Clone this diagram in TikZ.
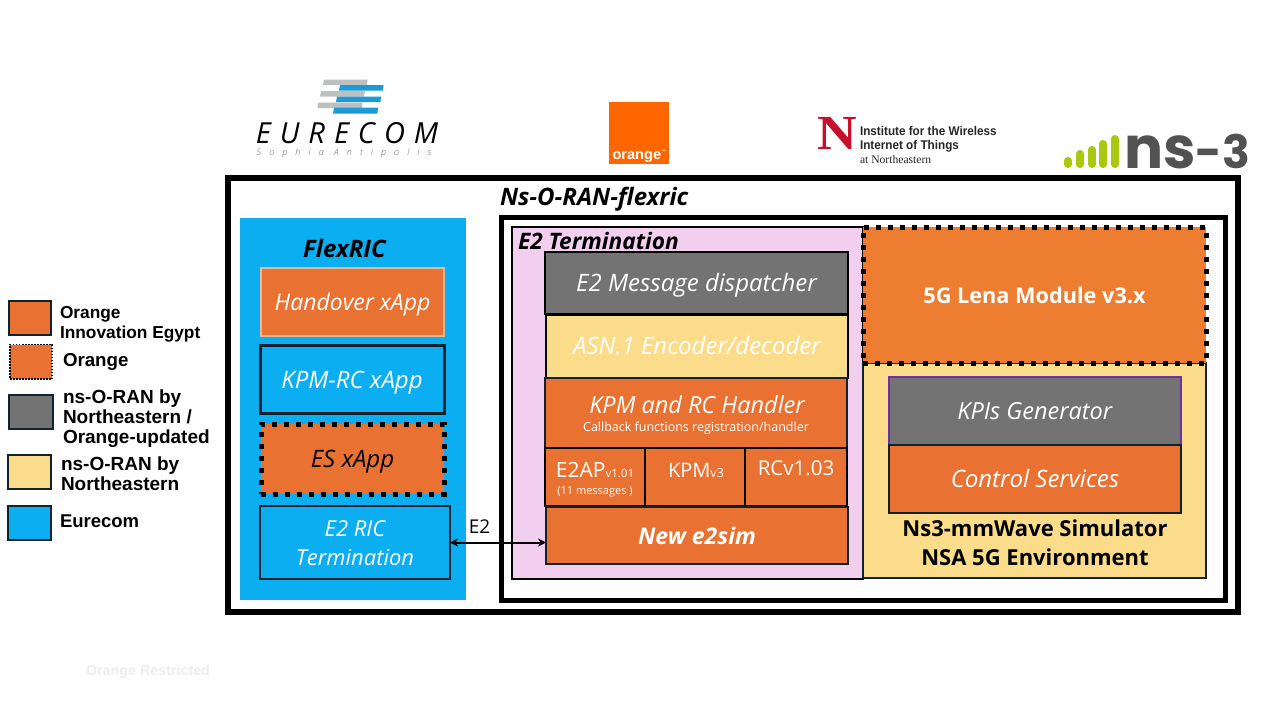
\documentclass[tikz,border=0pt]{standalone}
\usepackage{fontspec}
\usetikzlibrary{arrows.meta}
\setmainfont{Open Sans}
\newfontfamily\helv{Liberation Sans}
\newfontfamily\serifb{Liberation Serif}
\newfontfamily\logofont{Poppins}
\newfontfamily\eurefont[LetterSpace=31]{Open Sans}
\newfontfamily\eurefontb[LetterSpace=90]{Open Sans Light}
\definecolor{cOrange}{HTML}{E97132}
\definecolor{cLena}{HTML}{ED7D31}
\definecolor{cGray}{HTML}{737373}
\definecolor{cYellow}{HTML}{FBDC8B}
\definecolor{cBlue}{HTML}{0BAEF0}
\definecolor{cPink}{HTML}{F2CEEF}
\definecolor{cDark}{HTML}{10222E}
\definecolor{cTan}{HTML}{E8B89B}
\definecolor{cPurple}{HTML}{7030A0}
\definecolor{cLogoBlue}{HTML}{1C9AD6}
\definecolor{cLogoGray}{HTML}{BDBFC1}
\definecolor{cLime}{HTML}{A9C80E}
\definecolor{cRed}{HTML}{C8102E}
\definecolor{cFR}{HTML}{FF6600}
\newcommand{\fs}[2]{\fontsize{#1}{#2}\selectfont}
\newcommand{\pbox}[7]{%
  \pgfmathsetmacro\bw{#5-#3}\pgfmathsetmacro\bh{#6-#4}%
  \pgfmathsetmacro\bx{(#3+#5)/2}\pgfmathsetmacro\by{(#4+#6)/2}%
  \node[blk,#2,minimum width=\bw pt,minimum height=\bh pt] (#1) at (\bx,\by) {#7};}
\tikzset{
  blk/.style={rectangle,draw=cDark,line width=2pt,inner sep=0pt,outer sep=0pt,text=white,text height=17pt,text depth=0pt},
  dotbox/.style={draw=black,line width=5pt,dash pattern=on 5pt off 7pt},
  lab/.style={inner sep=0pt,outer sep=0pt,anchor=base},
  legtxt/.style={inner sep=0pt,outer sep=0pt,anchor=west,align=left,text=black},
  swatch/.style={draw=cDark,line width=2pt},
  frame/.style={draw=black,fill=none},
}
\begin{document}
\begin{tikzpicture}[x=1pt,y=-1pt]
\useasboundingbox (0,0) rectangle (1276,704);
% logos
\fill[cLogoGray] (324,79.5) -- (367.5,79.5) -- (367,85) -- (323,85) -- cycle;
\fill[cLogoGray] (321,91) -- (365,91) -- (364,96.5) -- (320,96.5) -- cycle;
\fill[cLogoGray] (318,102.5) -- (362.5,102.5) -- (362,108) -- (317.5,108) -- cycle;
\fill[cLogoBlue] (340,85) -- (383.5,85) -- (383,90.5) -- (339,90.5) -- cycle;
\fill[cLogoBlue] (337,96.5) -- (381,96.5) -- (380.5,102) -- (336,102) -- cycle;
\fill[cLogoBlue] (334,107.5) -- (378,107.5) -- (377.5,113.5) -- (333,113.5) -- cycle;
\node[lab,text=black] (eure) at (347,143) {\eurefont\itshape\fs{29}{30}EURECOM};
\node[lab,text=black!60] (soph) at (344,155) {\eurefontb\itshape\fs{9}{10}Sophia Antipolis};
\fill[cFR] (609,102) rectangle (669,164);
\node[lab,anchor=base west,text=white] (orlogo) at (612.5,159) {\helv\bfseries\fs{14.6}{15}orange\raisebox{6pt}{\fs{5}{5}™}};
\node[lab,text=cRed] (nu) at (837.5,149) {\scalebox{1.12}[1]{\serifb\bfseries\fs{49}{50}N}};
\node[lab,anchor=base west,text=black!85] (iw1) at (860,135.5) {\scalebox{.93}[1]{\helv\bfseries\fs{12.6}{14}Institute for the Wireless}};
\node[lab,anchor=base west,text=black!85] (iw2) at (860,149) {\scalebox{.93}[1]{\helv\bfseries\fs{12.6}{14}Internet of Things}};
\node[lab,anchor=base west,text=black!85] (iw3) at (860,163) {\serifb\fs{11.6}{12}at Northeastern};
\foreach \xc/\yt in {1068/157,1080/150,1092/146,1103/140,1115/135}
  \draw[cLime,line width=7.5pt,line cap=round] (\xc,\yt+3.7) -- (\xc,164.3);
\node[lab,anchor=base west,text=black!68] (ns3) at (1124.5,168) {\logofont\bfseries\fs{58}{60}ns\fs{46}{60}-3};
% frames
\draw[frame,line width=6pt] (228,177.5) rectangle (1237.5,611.5);
\draw[frame,line width=5pt] (501.5,217.5) rectangle (1225,600);
\node[lab,anchor=base west,text=black] (title) at (500,205.5) {\bfseries\itshape\fs{24}{26}Ns-O-RAN-flexric};
% FlexRIC
\pbox{flex}{draw=none,fill=cBlue}{240}{218}{466}{600}{}
\node[lab,text=black] (flext) at (344.5,257) {\bfseries\itshape\fs{24}{26}FlexRIC};
\pbox{hand}{draw=cTan,fill=cOrange,font=\itshape\fs{23}{25}}{261}{267.5}{444}{335.5}{Handover xApp}
\pbox{kpmx}{line width=3pt,fill=cBlue,font=\itshape\fs{24}{25}}{260}{345.5}{444}{413.5}{KPM-RC xApp}
\pbox{esx}{dotbox,fill=cOrange,text=black,font=\itshape\fs{24}{25}}{261}{424}{444}{494}{ES xApp}
\pbox{ric}{fill=cBlue}{260}{506}{450}{579}{}
\node[lab,text=white] (rict1) at (355,536.5) {\itshape\fs{22}{25}E2 RIC};
\node[lab,text=white] (rict2) at (355,565.5) {\itshape\fs{22}{25}Termination};
% E2 termination
\pbox{term}{draw=black,line width=1.5pt,fill=cPink}{512}{227}{863}{579}{}
\node[lab,anchor=base west,text=black] (termt) at (518,249.6) {\bfseries\itshape\fs{22.7}{24}E2 Termination};
\pbox{disp}{draw=black,fill=cGray,font=\itshape\fs{24}{25}}{545}{252}{848}{314}{E2 Message dispatcher}
\pbox{asn}{draw=black,fill=cYellow,font=\itshape\fs{24}{25}}{546}{314.5}{848}{378}{ASN.1 Encoder/decoder}
\pbox{hdl}{fill=cOrange}{545}{378}{847}{448}{}
\node[lab,text=white] (hdlt) at (697,413) {\itshape\fs{23.5}{25}KPM and RC Handler};
\node[lab,text=white] (hdls) at (696,431) {\fs{12.5}{14}Callback functions registration/handler};
\pbox{ap}{draw=black,fill=cOrange}{545}{448}{645}{506}{}
\node[lab,text=white] (apt) at (595,477.3) {\fs{21}{24}E2AP\fs{11.5}{24}v1.01};
\node[lab,text=white] (aps) at (595,494) {\fs{11}{12}(11 messages )};
\pbox{kpmv}{draw=black,fill=cOrange}{645}{448}{745}{506}{}
\node[lab,text=white] (kpmt) at (696,477.3) {\fs{20}{24}KPM\fs{12.5}{24}v3};
\pbox{rcv}{draw=black,fill=cOrange}{745}{448}{847}{506}{}
\node[lab,text=white] (rct) at (796,475) {\fs{20.5}{24}RCv1.03};
\pbox{sim}{fill=cOrange,font=\bfseries\itshape\fs{23}{25}}{546}{507}{848}{564}{New e2sim}
% right column
\pbox{ns3box}{fill=cYellow}{863}{363}{1206}{578}{}
\pbox{kpi}{draw=cPurple,fill=cGray,font=\itshape\fs{23.5}{25}}{888.5}{377}{1181}{445}{KPIs Generator}
\pbox{ctrl}{fill=cOrange,font=\itshape\fs{24}{25}}{889}{445}{1181}{513}{Control Services}
\node[lab,text=black] (nst1) at (1035,536.7) {\bfseries\fs{22}{25}Ns3-mmWave Simulator};
\node[lab,text=black] (nst2) at (1035,565.3) {\bfseries\fs{22}{25}NSA 5G Environment};
\pbox{lena}{dotbox,fill=cLena,font=\bfseries\fs{21.7}{24}}{863}{227}{1206}{363}{5G Lena Module v3.x}
% E2 link
\draw[{Stealth[length=8pt,width=8pt]}-{Stealth[length=8pt,width=8pt]},line width=2pt,draw=black] (ric.east) -- (ric.east -| sim.west);
\node[lab,text=black] (e2l) at (479.5,533) {\fs{19}{22}E2};
% legend
\pbox{lg1}{swatch,fill=cOrange}{9}{301}{51}{335}{}
\pbox{lg2}{draw=black,line width=1.5pt,dash pattern=on 1.5pt off 1.5pt,fill=cOrange}{10}{344.5}{52}{379}{}
\pbox{lg3}{swatch,fill=cGray}{9}{394.5}{53}{429}{}
\pbox{lg4}{swatch,fill=cYellow}{8}{455}{51}{489}{}
\pbox{lg5}{swatch,fill=cBlue}{8}{505.5}{51}{540}{}
\node[legtxt,font=\helv\bfseries\fs{17.3}{20}] (l1) at (60,324) {Orange\\Innovation Egypt};
\node[legtxt,font=\helv\bfseries\fs{18.7}{20}] (l2) at (63,362) {Orange};
\node[legtxt,font=\helv\bfseries\fs{19}{20}] (l3) at (63,419) {ns-O-RAN by\\Northeastern /\\Orange-updated};
\node[legtxt,font=\helv\bfseries\fs{19}{20}] (l4) at (61,474) {ns-O-RAN by\\Northeastern};
\node[legtxt,font=\helv\bfseries\fs{18.5}{20}] (l5) at (60,521) {Eurecom};
\node[lab,text=black!7] (restr) at (148,675) {\helv\bfseries\fs{14.3}{15}Orange Restricted};
\end{tikzpicture}
\end{document}
